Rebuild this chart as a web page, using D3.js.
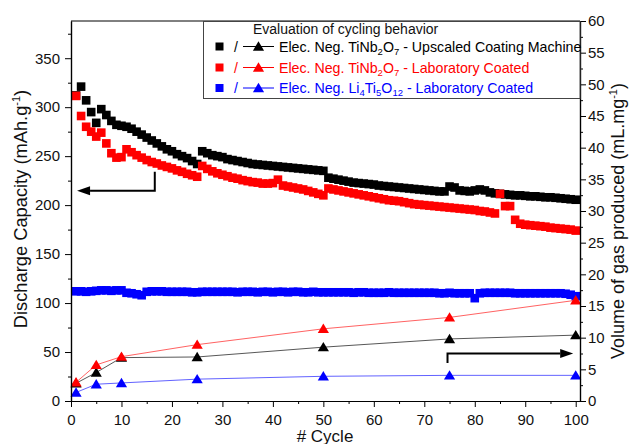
<!DOCTYPE html>
<html>
<head>
<meta charset="utf-8">
<script src="https://cdn.jsdelivr.net/npm/d3@7"></script>
<style>
  body { margin: 0; background: #fff; }
  svg { font-family: "Liberation Sans", Arial, sans-serif; }
</style>
</head>
<body>
<script>
// cycle index for the capacity curves
const cycles = d3.range(1, 101)

// discharge capacity (mAh/g), one value per cycle
const capUpscaled = [
  312, 321, 307, 295, 284, 298, 292, 286, 282, 281,
  280, 278, 275, 272, 269, 266, 263, 260, 257, 255,
  252, 250, 248, 245, 242, 255, 253, 251, 250, 249,
  247, 246, 245, 244, 243, 242, 241.5, 241, 240.5, 240,
  239.5, 239, 238.5, 238, 237.5, 237, 236.5, 236, 235.5, 235,
  228, 227, 226, 225, 224, 223, 222.5, 222, 221.5, 221,
  220, 219.5, 219, 218.5, 218, 217.5, 217, 216.5, 216, 215.5,
  215, 214.5, 214, 214, 219, 218, 215, 214.5, 214, 215,
  216, 215, 213, 212, 211.5, 211, 210.5, 210, 210, 209.5,
  209, 209, 208.5, 208, 208, 207.5, 207, 206.5, 206, 205.5
]
const capLabTNO = [
  311.5, 291, 280, 275, 270, 274, 263, 253, 248.5, 249,
  257, 254, 251, 248.5, 246, 244, 242.5, 240.5, 239, 237.5,
  235.5, 234, 232, 230.5, 229, 240, 237, 234.5, 232.5, 231,
  229.5, 228, 227, 225.5, 224.5, 223.5, 223, 222, 222, 222.5,
  226, 220, 219, 218, 217, 216, 214.5, 213, 211.5, 210,
  217, 216, 215, 214, 213, 212, 211, 210, 209, 208,
  207, 206, 205, 204.5, 204, 203, 202, 201, 200.5, 200,
  199.5, 199, 198.5, 198, 197.5, 197, 196.5, 196, 195.5, 195,
  194, 193.5, 192.5, 191.5, 211.5, 199, 199, 185, 181, 180,
  179.5, 179, 178.5, 178, 177, 176.5, 176, 175.5, 175, 174
]
const capLabLTO = [
  112, 112, 111.5, 112, 112.5, 113, 113, 112.5, 113, 113,
  110.5, 110, 109, 108, 111.5, 112, 112, 112, 111.5, 111.5,
  111.5, 111.5, 111.5, 111, 111, 111.5, 111.5, 111.5, 111.5, 111.5,
  111.5, 111.5, 111, 111.5, 111.5, 111.5, 111, 111.5, 111.5, 111,
  111.5, 111.5, 111, 111.5, 111.5, 111, 111, 111.5, 111, 111,
  111, 111, 111, 111, 111, 110.5, 111, 111, 110.5, 110.5,
  110.5, 110.5, 111, 110.5, 110.5, 110.5, 110.5, 110.5, 110.5, 110.5,
  110.5, 110.5, 110, 110, 110.5, 110, 110, 110, 110, 105,
  110, 110.5, 110.5, 110.5, 110.5, 110.5, 110.5, 110, 110, 110,
  110, 110, 110, 110, 110, 110, 110, 109.5, 108.5, 107
]

// gas produced (mL/mg), measured at a few cycles
const gasCycles = [1, 5, 10, 25, 50, 75, 100]
const gasUpscaled = [2.8, 4.5, 6.85, 6.95, 8.5, 9.8, 10.4]
const gasLabTNO = [2.95, 5.7, 7.0, 8.9, 11.4, 13.2, 15.9]
const gasLabLTO = [1.35, 2.65, 2.85, 3.45, 3.9, 4.05, 4.05]

// tick values
const xTicks = [0, 10, 20, 30, 40, 50, 60, 70, 80, 90, 100]
const xMinor = [5, 15, 25, 35, 45, 55, 65, 75, 85, 95]
const leftTicks = [0, 50, 100, 150, 200, 250, 300, 350]
const leftMinor = [25, 75, 125, 175, 225, 275, 325, 375]
const rightTicks = [0, 5, 10, 15, 20, 25, 30, 35, 40, 45, 50, 55, 60]
const rightMinor = [2.5, 7.5, 12.5, 17.5, 22.5, 27.5, 32.5, 37.5, 42.5, 47.5, 52.5, 57.5]

// arrows telling which axis a series belongs to: [cycle, value] points
const arrowLeft = [[16.6, 234], [16.6, 214.6], [1.2, 214.6]]
const arrowRight = [[74.6, 6.0], [74.6, 7.5], [99.5, 7.5]]

const series = [
  {name: "Upscaled", color: "#000000", line: "#444444", cap: capUpscaled, gas: gasUpscaled},
  {name: "LabTNO", color: "#ff0000", line: "#ff5050", cap: capLabTNO, gas: gasLabTNO},
  {name: "LabLTO", color: "#0000ff", line: "#5050ff", cap: capLabLTO, gas: gasLabLTO}
]

const W = 629, H = 444
const mLeft = 71, mRight = 580, mTop = 21, mBottom = 401

const svg = d3.select("body").append("svg")
    .attr("width", W)
    .attr("height", H)

const x = d3.scaleLinear().domain([0, 100.85]).range([mLeft, mRight])
const yL = d3.scaleLinear().domain([0, 388]).range([mBottom, mTop])
const yR = d3.scaleLinear().domain([0, 60]).range([mBottom, mTop])

// squares: capacity
const sq = 8.6
series.forEach(function (s) {
  svg.append("g")
    .selectAll("rect")
    .data(cycles.map(function (c, i) { return {c: c, v: s.cap[i]} }))
    .enter()
    .append("rect")
      .attr("x", function (d) { return x(d.c) - sq / 2 })
      .attr("y", function (d) { return yL(d.v) - sq / 2 })
      .attr("width", sq)
      .attr("height", sq)
      .attr("fill", s.color)
})

// triangles + thin lines: gas
const tri = "M0,-5.2L5.6,4.2L-5.6,4.2Z"
series.forEach(function (s) {
  const pts = gasCycles.map(function (c, i) { return {c: c, v: s.gas[i]} })
  svg.append("path")
    .datum(pts)
    .attr("fill", "none")
    .attr("stroke", s.line)
    .attr("stroke-width", 0.9)
    .attr("d", d3.line()
      .x(function (d) { return x(d.c) })
      .y(function (d) { return yR(d.v) }))
  svg.append("g")
    .selectAll("path")
    .data(pts)
    .enter()
    .append("path")
      .attr("d", tri)
      .attr("transform", function (d) { return `translate(${x(d.c)},${yR(d.v)})` })
      .attr("fill", s.color)
})

// frame
svg.append("line").attr("x1", mLeft).attr("x2", mRight).attr("y1", mTop).attr("y2", mTop)
  .attr("stroke", "#000").attr("stroke-width", 1)

function styleAxis(g) {
  g.selectAll("path, line").attr("stroke", "#000")
  g.selectAll("text").attr("font-size", 15).attr("fill", "#111")
  g.select(".domain").attr("stroke-width", 1.2)
}

svg.append("g")
  .attr("transform", `translate(0,${mBottom})`)
  .call(d3.axisBottom(x).tickValues(xTicks).tickSize(6).tickPadding(7).tickSizeOuter(0))
  .call(styleAxis)
svg.append("g")
  .attr("transform", `translate(0,${mBottom})`)
  .call(d3.axisBottom(x).tickValues(xMinor).tickSize(3).tickFormat("").tickSizeOuter(0))
  .call(styleAxis)

svg.append("g")
  .attr("transform", `translate(${mLeft},0)`)
  .call(d3.axisLeft(yL).tickValues(leftTicks).tickSize(6).tickPadding(5).tickSizeOuter(0))
  .call(styleAxis)
svg.append("g")
  .attr("transform", `translate(${mLeft},0)`)
  .call(d3.axisLeft(yL).tickValues(leftMinor).tickSize(3).tickFormat("").tickSizeOuter(0))
  .call(styleAxis)

svg.append("g")
  .attr("transform", `translate(${mRight},0)`)
  .call(d3.axisRight(yR).tickValues(rightTicks).tickSize(6).tickPadding(2).tickSizeOuter(0))
  .call(styleAxis)
svg.append("g")
  .attr("transform", `translate(${mRight},0)`)
  .call(d3.axisRight(yR).tickValues(rightMinor).tickSize(3).tickFormat("").tickSizeOuter(0))
  .call(styleAxis)

// axis titles
svg.append("text")
  .attr("x", 325)
  .attr("y", 441.5)
  .attr("text-anchor", "middle")
  .attr("font-size", 17)
  .attr("fill", "#111")
  .text("# Cycle")

const tl = svg.append("text")
  .attr("transform", "translate(26.5,209) rotate(-90)")
  .attr("text-anchor", "middle")
  .attr("font-size", 18.3)
  .attr("fill", "#111")
tl.append("tspan").text("Discharge Capacity (mAh.g")
tl.append("tspan").attr("font-size", 11).attr("dy", -7).text("-1")
tl.append("tspan").attr("dy", 7).text(")")

const tr = svg.append("text")
  .attr("transform", "translate(623.5,221) rotate(-90)")
  .attr("text-anchor", "middle")
  .attr("font-size", 18)
  .attr("fill", "#111")
tr.append("tspan").text("Volume of gas produced (mL.mg")
tr.append("tspan").attr("font-size", 11).attr("dy", -7).text("-1")
tr.append("tspan").attr("dy", 7).text(")")

// arrows
function drawArrow(pts, yScale) {
  const p = pts.map(function (d) { return [x(d[0]), yScale(d[1])] })
  const tip = p[p.length - 1]
  const prev = p[p.length - 2]
  const dir = tip[0] > prev[0] ? 1 : -1
  const headLen = 13
  p[p.length - 1] = [tip[0] - dir * headLen, tip[1]]
  svg.append("path")
    .attr("d", d3.line()(p))
    .attr("fill", "none")
    .attr("stroke", "#000")
    .attr("stroke-width", 2)
  svg.append("path")
    .attr("d", `M${tip[0]},${tip[1]}L${tip[0] - dir * headLen},${tip[1] - 4.5}L${tip[0] - dir * headLen},${tip[1] + 4.5}Z`)
    .attr("fill", "#000")
}
drawArrow(arrowLeft, yL)
drawArrow(arrowRight, yR)

// legend
const lg = svg.append("g")
lg.append("rect")
  .attr("x", 203.5).attr("y", mTop + 0.5)
  .attr("width", mRight - 203.5).attr("height", 77)
  .attr("fill", "#fff")
  .attr("stroke", "#444")
  .attr("stroke-width", 1)
lg.append("text")
  .attr("x", 253).attr("y", 34.3)
  .attr("font-size", 14)
  .attr("fill", "#111")
  .text("Evaluation of cycling behavior")

const legendRows = [
  {color: "#000000", parts: [["Elec. Neg. TiNb"], ["2", "sub"], ["O"], ["7", "sub"], [" - Upscaled Coating Machine"]]},
  {color: "#ff0000", parts: [["Elec. Neg. TiNb"], ["2", "sub"], ["O"], ["7", "sub"], [" - Laboratory Coated"]]},
  {color: "#0000ff", parts: [["Elec. Neg. Li"], ["4", "sub"], ["Ti"], ["5", "sub"], ["O"], ["12", "sub"], [" - Laboratory Coated"]]}
]
const rowY = [46.5, 67.5, 88]
legendRows.forEach(function (r, i) {
  const yy = rowY[i]
  lg.append("rect")
    .attr("x", 215.5).attr("y", yy - 4)
    .attr("width", 8).attr("height", 8)
    .attr("fill", r.color)
  lg.append("text")
    .attr("x", 234).attr("y", yy + 5)
    .attr("font-size", 14)
    .attr("fill", r.color)
    .text("/")
  lg.append("line")
    .attr("x1", 243).attr("x2", 274).attr("y1", yy).attr("y2", yy)
    .attr("stroke", r.color).attr("stroke-width", 1)
  lg.append("path")
    .attr("d", tri)
    .attr("transform", `translate(258.5,${yy})`)
    .attr("fill", r.color)
  const t = lg.append("text")
    .attr("x", 279).attr("y", yy + 5.2)
    .attr("font-size", 14.2)
    .attr("fill", r.color)
  let shifted = false
  r.parts.forEach(function (p) {
    const sp = t.append("tspan").text(p[0])
    if (p[1] === "sub") {
      sp.attr("font-size", 9.5).attr("dy", shifted ? 0 : 3)
      shifted = true
    } else {
      if (shifted) sp.attr("dy", -3)
      shifted = false
    }
  })
})
</script>
</body>
</html>
